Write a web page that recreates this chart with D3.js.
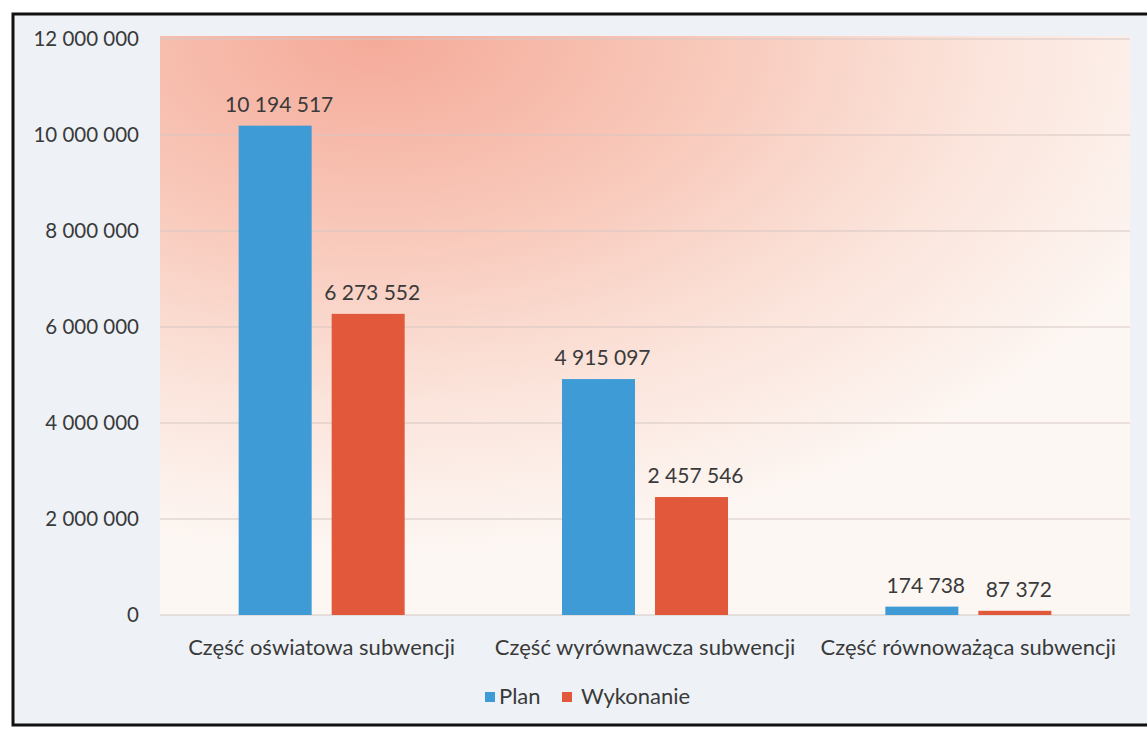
<!DOCTYPE html>
<html>
<head>
<meta charset="utf-8">
<script src="https://cdn.jsdelivr.net/npm/d3@7/dist/d3.min.js"></script>
<style>
  body { margin: 0; background: #fff; }
  svg { display: block; }
  text { font-family: Lato, "Noto Sans", sans-serif; fill: #3a3a3a; }
</style>
</head>
<body>
<svg></svg>
<script>
var categories = ["Część oświatowa subwencji", "Część wyrównawcza subwencji", "Część równoważąca subwencji"],
    seriesNames = ["Plan", "Wykonanie"],
    planValues = [10194517, 4915097, 174738],
    wykonanieValues = [6273552, 2457546, 87372],
    yTicks = [0, 2000000, 4000000, 6000000, 8000000, 10000000, 12000000];

var width = 1147,
    height = 735,
    margin = {top: 39, right: 17, bottom: 120, left: 160},
    color = d3.scaleOrdinal().domain(seriesNames).range(["#3f9bd6", "#e2583a"]),
    locale = d3.formatLocale({decimal: ",", thousands: "\u00a0", grouping: [3], currency: ["", " zł"]}),
    fmt = locale.format(",d");

var svg = d3.select("svg").attr("width", width).attr("height", height);

// plot area fill: salmon at the top left fading to near white at the bottom right
var defs = svg.append("defs");
var grad = defs.append("radialGradient")
    .attr("id", "plotBg")
    .attr("cx", "0.22").attr("cy", "0").attr("r", "0.9")
    .attr("fx", "0.22").attr("fy", "0");
grad.append("stop").attr("offset", "0").attr("stop-color", "#f5aa99");
grad.append("stop").attr("offset", "0.35").attr("stop-color", "#f8c6b7");
grad.append("stop").attr("offset", "0.7").attr("stop-color", "#fbe4db");
grad.append("stop").attr("offset", "1").attr("stop-color", "#fdf7f3");

// outer paper
svg.append("rect")
    .attr("x", 13).attr("y", 14)
    .attr("width", width + 10).attr("height", 711)
    .attr("fill", "#eef2f7")
    .attr("stroke", "#111")
    .attr("stroke-width", 3);

var plotW = 1130 - margin.left,
    plotH = 615 - margin.top;

var g = svg.append("g").attr("transform", "translate(" + margin.left + "," + margin.top + ")");

var y = d3.scaleLinear().domain([0, 12000000]).range([plotH, 0]);
var x0 = d3.scaleBand().domain(categories).range([0, plotW]).padding(0);
var groupW = 166;
var x1 = d3.scaleBand().domain(seriesNames)
    .range([(x0.bandwidth() - groupW) / 2, (x0.bandwidth() + groupW) / 2])
    .paddingInner(0.215);

g.append("rect")
    .attr("x", 0).attr("y", -3)
    .attr("width", plotW).attr("height", plotH + 3)
    .attr("fill", "url(#plotBg)");

// gridlines
g.selectAll(".grid")
    .data(yTicks)
    .enter().append("line")
    .attr("class", "grid")
    .attr("x1", 0).attr("x2", plotW)
    .attr("y1", function(d) { return y(d); })
    .attr("y2", function(d) { return y(d); })
    .attr("stroke", "#d6c7c3")
    .attr("stroke-width", 1);

// y axis labels
var yAxis = g.append("g")
    .call(d3.axisLeft(y).tickValues(yTicks).tickSize(0).tickPadding(21)
        .tickFormat(function(d) { return fmt(d); }));
yAxis.select(".domain").remove();
yAxis.selectAll("text")
    .style("font-size", "20.5px")
    .style("font-family", "Lato, 'Noto Sans', sans-serif")
    .attr("fill", "#3a3a3a");

var rows = categories.map(function(c, i) {
    return {category: c, values: [
        {series: "Plan", value: planValues[i]},
        {series: "Wykonanie", value: wykonanieValues[i]}
    ]};
});

var group = g.selectAll(".group")
    .data(rows)
    .enter().append("g")
    .attr("class", "group")
    .attr("transform", function(d) { return "translate(" + x0(d.category) + ",0)"; });

group.selectAll("rect")
    .data(function(d) { return d.values; })
    .enter().append("rect")
    .attr("x", function(d) { return x1(d.series); })
    .attr("y", function(d) { return y(d.value); })
    .attr("width", x1.bandwidth())
    .attr("height", function(d) { return plotH - y(d.value); })
    .attr("fill", function(d) { return color(d.series); });

group.selectAll(".val")
    .data(function(d) { return d.values; })
    .enter().append("text")
    .attr("class", "val")
    .attr("x", function(d) { return x1(d.series) + x1.bandwidth() / 2 + 4; })
    .attr("y", function(d) { return y(d.value) - 14; })
    .attr("text-anchor", "middle")
    .style("font-size", "21px")
    .text(function(d) { return fmt(d.value); });

// category labels
g.selectAll(".cat")
    .data(categories)
    .enter().append("text")
    .attr("class", "cat")
    .attr("x", function(d) { return x0(d) + x0.bandwidth() / 2; })
    .attr("y", plotH + 40)
    .attr("text-anchor", "middle")
    .style("font-size", "22px")
    .text(function(d) { return d; });

// legend
var legend = svg.append("g")
    .selectAll("g")
    .data(seriesNames)
    .enter().append("g")
    .attr("transform", function(d, i) { return "translate(" + (485 + i * 77) + ",692)"; });

legend.append("rect")
    .attr("width", 10).attr("height", 10)
    .attr("fill", function(d) { return color(d); });

legend.append("text")
    .attr("x", function(d, i) { return i === 0 ? 14 : 19; })
    .attr("y", 12)
    .style("font-size", "22px")
    .text(function(d) { return d; });
</script>
</body>
</html>
